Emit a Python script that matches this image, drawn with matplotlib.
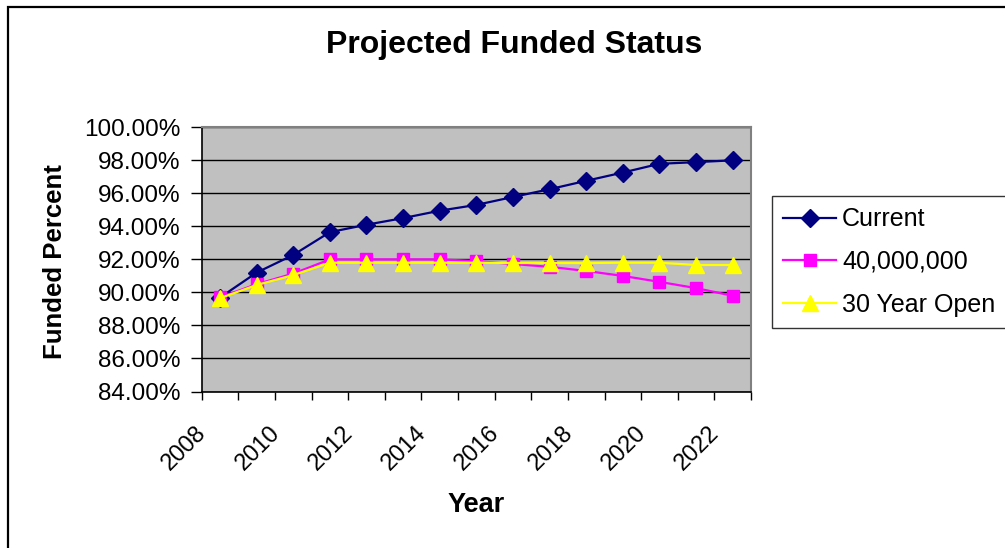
import numpy as np
import matplotlib
matplotlib.use("Agg")
import matplotlib.pyplot as plt
from matplotlib.patches import Rectangle
from matplotlib.ticker import FuncFormatter

plt.rcParams["font.family"] = ["Liberation Sans", "DejaVu Sans"]

years = [2008, 2009, 2010, 2011, 2012, 2013, 2014, 2015,
         2016, 2017, 2018, 2019, 2020, 2021, 2022]
current = [89.69, 91.2, 92.27, 93.65, 94.1, 94.5, 94.95, 95.3,
           95.78, 96.25, 96.76, 97.26, 97.79, 97.89, 98.0]
forty_million = [89.7, 90.5, 91.14, 92.0, 92.0, 92.0, 92.0, 91.9,
                 91.72, 91.55, 91.3, 91.0, 90.64, 90.26, 89.8]
thirty_year = [89.65, 90.45, 91.05, 91.8, 91.8, 91.8, 91.8, 91.8,
               91.78, 91.78, 91.78, 91.8, 91.8, 91.66, 91.66]
series_names = ["Current", "40,000,000", "30 Year Open"]

fig = plt.figure(figsize=(10.05, 5.48), dpi=100)
ax = fig.add_axes([201.7 / 1005, 1 - 391.5 / 548, 549.3 / 1005, 264.2 / 548])
ax.set_facecolor("#C0C0C0")

x = np.arange(len(years))
ax.plot(x, current, color="#000080", lw=1.6, marker="D", markersize=9.5,
        markerfacecolor="#000080", markeredgecolor="#000080", label=series_names[0])
ax.plot(x, forty_million, color="#FF00FF", lw=1.6, marker="s", markersize=8,
        markerfacecolor="#FF00FF", markeredgecolor="#FF00FF", label=series_names[1])
ax.plot(x, thirty_year, color="#FFFF00", lw=1.6, marker="^", markersize=11.5,
        markerfacecolor="#FFFF00", markeredgecolor="#FFFF00", label=series_names[2])

ax.set_xlim(-0.5, len(years) - 0.5)
ax.set_ylim(84, 100)
ax.set_yticks(np.arange(84, 100.1, 2))
ax.yaxis.set_major_formatter(FuncFormatter(lambda v, p: "%.2f%%" % v))
ax.grid(axis="y", color="black", lw=1.0)
ax.set_axisbelow(True)

# rotated labels end a little left of the category centre (like excel does)
ax.set_xticks(x[::2] - 0.25)
ax.set_xticklabels([str(y) for y in years[::2]])
ax.set_xticks(np.arange(-0.5, len(years), 1), minor=True)
ax.tick_params(axis="x", which="major", length=0, pad=22, labelsize=17)
ax.tick_params(axis="x", which="minor", length=6, width=1, color="black")
ax.tick_params(axis="y", length=8, width=1, pad=7, labelsize=17.5)
for lab in ax.get_xticklabels():
    lab.set_rotation(45)
    lab.set_ha("right")
    lab.set_va("top")

for side in ["top", "right"]:
    ax.spines[side].set_color("#808080")
    ax.spines[side].set_linewidth(1.5)
for side in ["left", "bottom"]:
    ax.spines[side].set_color("black")
    ax.spines[side].set_linewidth(1.2)

fig.text(514 / 1005, 1 - 45 / 548, "Projected Funded Status", fontsize=23,
         fontweight="bold", ha="center", va="center")
fig.text(55 / 1005, 1 - 262 / 548, "Funded Percent", fontsize=18.5,
         fontweight="bold", rotation=90, ha="center", va="center")
fig.text(476 / 1005, 1 - 505 / 548, "Year", fontsize=19.5,
         fontweight="bold", ha="center", va="center")

leg = fig.legend(loc="upper left", bbox_to_anchor=(772 / 1005, 1 - 196 / 548),
                 fontsize=18, frameon=True, fancybox=False, borderaxespad=0,
                 handlelength=2.1, handletextpad=0.25, borderpad=0.45,
                 labelspacing=0.75)
leg.get_frame().set_edgecolor("black")
leg.get_frame().set_linewidth(1.0)

fig.patches.append(Rectangle((8 / 1005, -0.1), 1.2, 1.1 - 7 / 548,
                             transform=fig.transFigure, fill=False,
                             edgecolor="black", lw=1.6))

fig.savefig("out.png", dpi=100)
